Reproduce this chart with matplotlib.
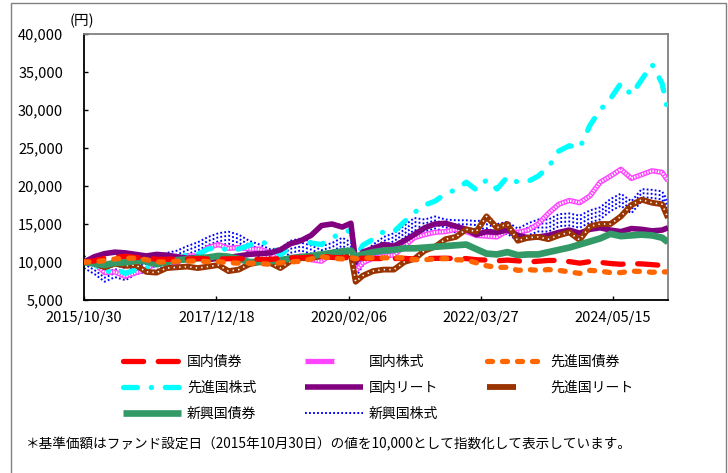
import matplotlib
matplotlib.use("Agg")
import matplotlib.pyplot as plt
from matplotlib.legend_handler import HandlerTuple
from matplotlib.transforms import offset_copy
from matplotlib.patches import Rectangle
from matplotlib.ticker import FuncFormatter
import pandas as pd

plt.rcParams['font.family'] = ['Noto Sans CJK JP', 'DejaVu Sans']
plt.rcParams['lines.scale_dashes'] = False

dates = ["2015-10-30","2015-12-31","2016-02-29","2016-04-30","2016-06-30","2016-08-31","2016-10-31","2016-12-31",
         "2017-02-28","2017-04-30","2017-06-30","2017-08-31","2017-10-31","2017-12-31",
         "2018-02-28","2018-04-30","2018-06-30","2018-08-31","2018-10-31","2018-12-31",
         "2019-02-28","2019-04-30","2019-06-30","2019-08-31","2019-10-31","2019-12-31",
         "2020-02-20","2020-03-19","2020-04-30","2020-06-30","2020-08-31","2020-10-31","2020-12-31",
         "2021-02-28","2021-04-30","2021-06-30","2021-08-31","2021-10-31","2021-12-31",
         "2022-02-28","2022-04-30","2022-06-30","2022-08-31","2022-10-31","2022-12-31",
         "2023-02-28","2023-04-30","2023-06-30","2023-08-31","2023-10-31","2023-12-31",
         "2024-02-29","2024-04-30","2024-06-30","2024-08-31","2024-10-31","2024-12-31",
         "2025-02-28","2025-04-04"]

domestic_bond = [10000, 10150, 10500, 10600, 10750, 10600, 10550, 10350,
                 10350, 10400, 10400, 10450, 10400, 10400,
                 10420, 10430, 10420, 10350, 10350, 10450,
                 10550, 10550, 10650, 10800, 10600, 10550,
                 10600, 10450, 10500, 10450, 10450, 10450, 10480,
                 10400, 10450, 10480, 10500, 10450, 10450,
                 10300, 10250, 10150, 10250, 10150, 10000,
                 10100, 10200, 10200, 10050, 9850, 10050,
                 9950, 9800, 9700, 9800, 9750, 9650,
                 9550, 9500]

domestic_stock = [10000, 9900, 8600, 8700, 8100, 8600, 9000, 10000,
                  10100, 9900, 10800, 10800, 11900, 12300,
                  11800, 11900, 11700, 11700, 11200, 9900,
                  10500, 10800, 10300, 10100, 11100, 11500,
                  11000, 8800, 9900, 10500, 10800, 10900, 12100,
                  13200, 13600, 13900, 14000, 14300, 14000,
                  13500, 13400, 13300, 14100, 13900, 14200,
                  15000, 16400, 17600, 18100, 17800, 18700,
                  20500, 21300, 22200, 21000, 21500, 22000,
                  21800, 20700]

developed_bond = [10000, 10000, 10200, 10400, 10500, 10500, 10300, 10000,
                  10000, 10100, 10100, 10150, 10050, 10050,
                  9900, 9850, 9850, 9800, 9700, 9900,
                  10000, 10100, 10400, 10700, 10500, 10400,
                  10600, 10400, 10500, 10550, 10550, 10550, 10550,
                  10300, 10300, 10400, 10450, 10300, 10250,
                  9900, 9500, 9300, 9300, 8900, 9000,
                  8900, 9000, 8900, 8700, 8500, 8900,
                  8800, 8600, 8600, 8800, 8750, 8650,
                  8700, 8700]

developed_stock = [10000, 9700, 8600, 9100, 8500, 9000, 9100, 10500,
                   10600, 10500, 11000, 11000, 11700, 12000,
                   11500, 11700, 12200, 12700, 12300, 10900,
                   12000, 12900, 12500, 12300, 13200, 13800,
                   14200, 10500, 12200, 13000, 14000, 14000, 15300,
                   16500, 17500, 18000, 19000, 19500, 20500,
                   19500, 20800, 19600, 21200, 20500, 20600,
                   21300, 22500, 24600, 25300, 25000, 28000,
                   30000, 31500, 33500, 32000, 34000, 36000,
                   33500, 29800]

domestic_reit = [10000, 10700, 11100, 11300, 11200, 11000, 10800, 11000,
                 10900, 10700, 10500, 10600, 10300, 10500,
                 10600, 10800, 11000, 11100, 11200, 11600,
                 12400, 12800, 13500, 14800, 15000, 14600,
                 15100, 10000, 11300, 11800, 12300, 12100, 12800,
                 13600, 14500, 15000, 15100, 14700, 14300,
                 13600, 14000, 13900, 14200, 13500, 13200,
                 13300, 13500, 13900, 14200, 13800, 14300,
                 14500, 14200, 14000, 14400, 14300, 14100,
                 14200, 14500]

developed_reit = [10000, 9800, 9300, 9800, 9500, 9600, 8700, 8600,
                  9200, 9300, 9400, 9200, 9400, 9600,
                  8800, 9000, 9700, 10000, 9900, 9200,
                  10100, 10500, 10500, 10800, 10900, 10800,
                  11000, 7400, 8200, 8800, 9000, 9000, 10000,
                  10400, 11500, 12000, 13000, 13300, 14300,
                  14000, 16000, 14500, 15000, 12800, 13200,
                  13300, 13000, 13500, 13900, 12900, 14700,
                  15000, 15000, 16000, 17500, 18200, 17800,
                  17600, 15800]

emerging_bond = [10000, 9800, 9600, 9900, 9950, 10150, 10100, 9700,
                 10000, 10250, 10350, 10500, 10600, 10800,
                 10700, 10400, 10000, 10000, 10100, 10200,
                 10500, 10650, 10800, 11000, 11200, 11400,
                 11500, 10700, 11000, 11300, 11500, 11600, 11800,
                 11800, 11900, 12000, 12100, 12200, 12300,
                 11700, 11100, 11000, 11300, 10900, 11000,
                 11000, 11300, 11600, 11900, 12300, 12700,
                 13100, 13700, 13400, 13500, 13600, 13500,
                 13200, 12600]

emerging_stock = [10000, 9200, 8200, 8800, 8400, 9200, 9500, 9700,
                  10400, 10700, 11300, 11800, 12500, 13000,
                  13200, 12800, 12000, 11500, 10900, 11000,
                  12000, 12300, 11900, 11300, 11700, 12400,
                  11800, 8800, 10300, 11500, 12500, 13000, 14000,
                  15000, 14800, 15200, 14800, 14700, 14700,
                  14600, 14700, 14200, 14500, 13600, 14300,
                  14800, 14800, 15500, 15600, 15300, 16000,
                  16400, 17500, 18200, 17200, 18800, 18700,
                  18500, 17200]

labels = ["国内債券", "国内株式", "先進国債券", "先進国株式",
          "国内リート", "先進国リート", "新興国債券", "新興国株式"]
yticks = [5000, 10000, 15000, 20000, 25000, 30000, 35000, 40000]
xtick_labels = ["2015/10/30", "2017/12/18", "2020/02/06", "2022/03/27", "2024/05/15"]

x = pd.to_datetime(dates)

W, H = 728, 473
fig = plt.figure(figsize=(W / 100, H / 100), dpi=100)
ax = fig.add_axes([84 / W, 1 - 300 / H, 584 / W, 266 / H])

# 新興国株式 (blue dotted band)
blue_lines = []
for dy in (-6, -2, 2, 6):
    tr = offset_copy(ax.transData, fig=fig, x=0, y=dy, units='dots')
    ln, = ax.plot(x, emerging_stock, color='#0000FF', lw=1.4,
                  linestyle=(0, (1.3, 1.6)), transform=tr, zorder=2)
    blue_lines.append(ln)

# 国内株式 (magenta with white dots)
pk1, = ax.plot(x, domestic_stock, color='#FF44FF', lw=3.8, zorder=3,
               solid_capstyle='butt')
pk2, = ax.plot(x, domestic_stock, color='white', lw=1.8, zorder=3.1,
               linestyle=(0, (1.0, 1.0)))

# 先進国株式 (cyan long dash dot)
cy, = ax.plot(x, developed_stock, color='#00FFFF', lw=3.8, zorder=4,
              linestyle=(0, (10, 10, 0.1, 10)), dash_capstyle='round')

# 国内リート (purple)
pu, = ax.plot(x, domestic_reit, color='#800080', lw=4.0, zorder=5,
              solid_capstyle='butt')

# 先進国リート (brown with white dots)
br1, = ax.plot(x, developed_reit, color='#993300', lw=4.2, zorder=6,
               solid_capstyle='butt')
br2, = ax.plot(x, developed_reit, color='white', lw=1.2, zorder=6.1,
               linestyle=(0, (1.0, 3.0)))

# 新興国債券 (green)
gr, = ax.plot(x, emerging_bond, color='#339966', lw=4.8, zorder=7,
              solid_capstyle='butt')

# 国内債券 (red dashes)
rd, = ax.plot(x, domestic_bond, color='#FF0000', lw=3.8, zorder=8,
              linestyle=(0, (14.5, 10.5)), dash_capstyle='round')

# 先進国債券 (orange dashes)
orn, = ax.plot(x, developed_bond, color='#FF6600', lw=3.8, zorder=9,
               linestyle=(0, (3.6, 7.2)), dash_capstyle='round')

ax.set_xlim(x[0], x[-1])
ax.set_ylim(yticks[0], yticks[-1])
ax.set_yticks(yticks)
ax.yaxis.set_major_formatter(FuncFormatter(lambda v, p: f"{int(v):,}"))
ax.set_xticks(pd.to_datetime(xtick_labels, format="%Y/%m/%d"))
ax.set_xticklabels(xtick_labels)

ax.tick_params(axis='both', direction='in', length=3, width=1, labelsize=10.5, colors='black')
ax.tick_params(axis='y', pad=15)
ax.tick_params(axis='x', pad=8)
for s in ('left', 'bottom'):
    ax.spines[s].set_color('black')
    ax.spines[s].set_linewidth(1.3)
for s in ('top', 'right'):
    ax.spines[s].set_color('#808080')
    ax.spines[s].set_linewidth(1.3)

fig.text(82 / W, 1 - 21 / H, "(円)", ha='center', va='center', fontsize=10.5)

handles = [rd, cy, gr, (pk1, pk2), pu, blue_lines[2], orn, (br1, br2)]
hl = [labels[0], labels[3], labels[6], labels[1], labels[4], labels[7], labels[2], labels[5]]
fig.legend(handles, hl, ncol=3, loc='upper left',
           bbox_to_anchor=(123 / W, 1 - 355 / H), frameon=False, fontsize=10,
           handlelength=4.2, handletextpad=0.4, columnspacing=3.5,
           labelspacing=0.85, borderpad=0, borderaxespad=0,
           handler_map={tuple: HandlerTuple(ndivide=None)})

fig.text(26 / W, 1 - 444 / H,
         "＊基準価額はファンド設定日（2015年10月30日）の値を10,000として指数化して表示しています。",
         ha='left', va='center', fontsize=9.8)

fig.add_artist(Rectangle((11 / W, -0.05), 715 / W, 1.05 - 3 / H, transform=fig.transFigure,
                         fill=False, edgecolor='#808080', lw=1.0))

fig.savefig("out.png", dpi=100)
